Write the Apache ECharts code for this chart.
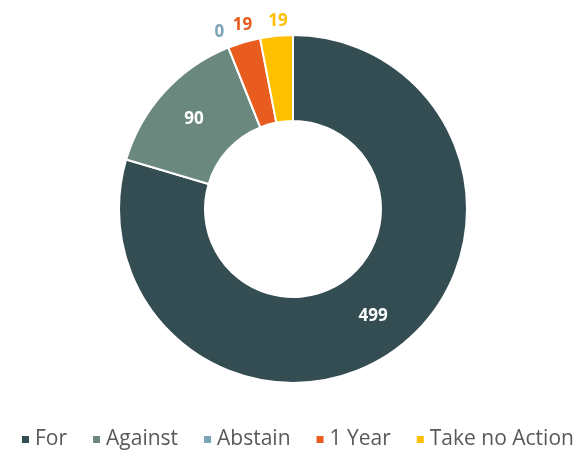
<!DOCTYPE html>
<html>
<head>
<meta charset="utf-8">
<script src="https://cdn.jsdelivr.net/npm/echarts@6/dist/echarts.min.js"></script>
<style>
  html, body { margin: 0; padding: 0; background: #fff; }
  #chart { width: 576px; height: 451px; }
</style>
</head>
<body>
<div id="chart"></div>
<script>
// Vote outcome categories and counts
const categories = ['For', 'Against', 'Abstain', '1 Year', 'Take no Action'];
const votes = [499, 90, 0, 19, 19];
const colors = ['#334d52', '#6a887e', '#7ca3b8', '#e85c1f', '#ffc000'];
// Large slices carry their value inside the ring; small ones outside
const insideLabel = [true, true, false, false, false];
// Small nudges for the outside value labels so they sit clear of each other
const labelNudge = [null, null, [2, 0], [8, -2], [8, 1]];

const chart = echarts.init(document.getElementById('chart'), null, { renderer: 'canvas' });

const data = categories.map((name, i) => ({
  name,
  value: votes[i],
  itemStyle: { color: colors[i] },
  label: insideLabel[i]
    ? { position: 'inside', color: '#ffffff' }
    : { position: 'outside', color: colors[i], offset: labelNudge[i] },
  labelLine: { show: false, length: 16, length2: 0 }
}));

chart.setOption({
  animation: false,
  color: colors,
  legend: {
    top: 429,
    left: 20,
    width: 556,
    padding: 0,
    icon: 'rect',
    itemWidth: 9,
    itemHeight: 9,
    itemGap: 24,
    textStyle: { fontFamily: 'Open Sans', fontSize: 21, color: '#595959' },
    data: categories
  },
  series: [{
    type: 'pie',
    center: [293, 209],
    radius: [88, 174],
    startAngle: 90,
    clockwise: true,
    avoidLabelOverlap: false,
    minShowLabelAngle: 0,
    stillShowZeroSum: true,
    itemStyle: { borderColor: '#ffffff', borderWidth: 2 },
    label: {
      show: true,
      formatter: '{c}',
      fontFamily: 'Open Sans',
      fontWeight: 'bold',
      fontSize: 17
    },
    labelLayout: { align: 'center' },
    emphasis: { disabled: true },
    data
  }]
});
</script>
</body>
</html>
